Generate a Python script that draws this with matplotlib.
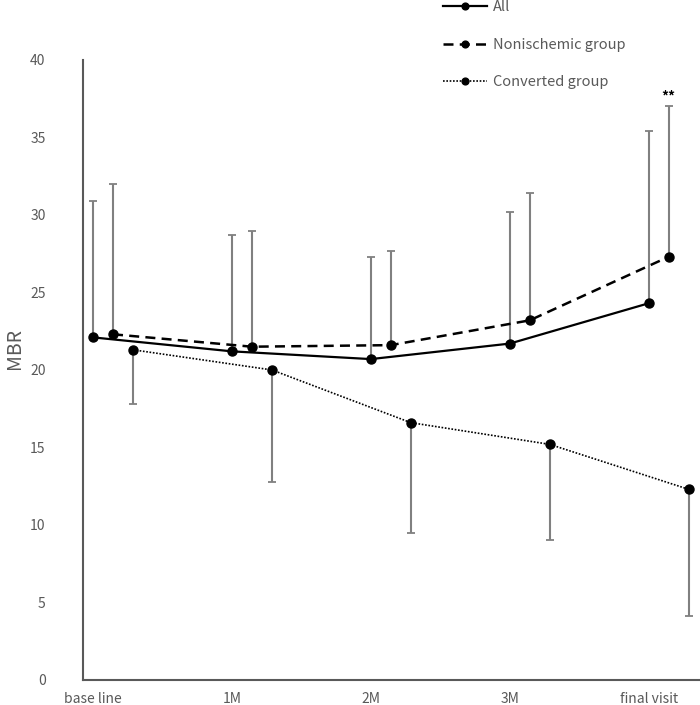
import matplotlib
matplotlib.use("Agg")
import matplotlib.pyplot as plt
import numpy as np

plt.rcParams["font.family"] = ["Noto Sans CJK JP", "DejaVu Sans"]

# values
categories = ["base line", "1M", "2M", "3M", "final visit"]

all_mean = [22.1, 21.2, 20.7, 21.7, 24.3]
all_sd = [8.8, 7.5, 6.6, 8.5, 11.1]

non_mean = [22.3, 21.5, 21.6, 23.2, 27.3]
non_sd = [9.7, 7.45, 6.1, 8.2, 9.7]

conv_mean = [21.3, 20.0, 16.6, 15.2, 12.3]
conv_sd = [3.5, 7.2, 7.1, 6.2, 8.2]

labels = ["All", "Nonischemic group", "Converted group"]
styles = ["-", (0, (4, 2.5)), (0, (1, 1))]
widths = [1.6, 1.8, 1.2]
offsets = [0.0, 0.144, 0.288]

txt = "#595959"
err_c = "#808080"

fig = plt.figure(figsize=(7.0, 7.05), dpi=100)
ax = fig.add_axes([0.1186, 0.0355, 0.8814, 0.8795])

x = np.arange(len(categories))
series = [(all_mean, all_sd, "up"), (non_mean, non_sd, "up"), (conv_mean, conv_sd, "down")]

handles = []
for k, (m, sd, side) in enumerate(series):
    m = np.array(m)
    sd = np.array(sd)
    z = np.zeros_like(sd)
    yerr = np.vstack([z, sd]) if side == "up" else np.vstack([sd, z])
    xs = x + offsets[k]
    ax.errorbar(xs, m, yerr=yerr, fmt="none", ecolor=err_c, elinewidth=1.5,
                capsize=3.2, capthick=1.3, zorder=2)
    h, = ax.plot(xs, m, ls=styles[k], lw=widths[k], color="black",
                 marker="o", ms=6.5, zorder=3, label=labels[k])
    handles.append(h)

# significance mark above final visit, nonischemic group
ax.annotate("**", xy=(x[-1] + offsets[1], non_mean[-1] + non_sd[-1]),
            xytext=(0, 2), textcoords="offset points", ha="center", va="bottom",
            fontsize=10, fontweight="bold", color="black", annotation_clip=False)

ax.set_xlim(-0.072, 4.37)
ax.set_ylim(0, 40)
ax.set_yticks(np.arange(0, 41, 5))
ax.set_xticks(x)
ax.set_xticklabels(categories)
ax.tick_params(length=0, labelsize=10, colors=txt)
ax.tick_params(axis="y", pad=27)
ax.tick_params(axis="x", pad=9)

for s in ["top", "right"]:
    ax.spines[s].set_visible(False)
for s in ["left", "bottom"]:
    ax.spines[s].set_color(txt)
    ax.spines[s].set_linewidth(1.5)

ax.set_ylabel("MBR", fontsize=14, color=txt)
ax.yaxis.set_label_coords(-0.094, 0.534)

fig.legend(handles=handles, loc="upper left", bbox_to_anchor=(443 / 700, 1.0),
           frameon=False, fontsize=10.5, labelcolor=txt, handlelength=3.0,
           handletextpad=0.4, labelspacing=1.62, borderpad=0, borderaxespad=0,
           markerscale=0.75)

fig.savefig("out.png", dpi=100)
